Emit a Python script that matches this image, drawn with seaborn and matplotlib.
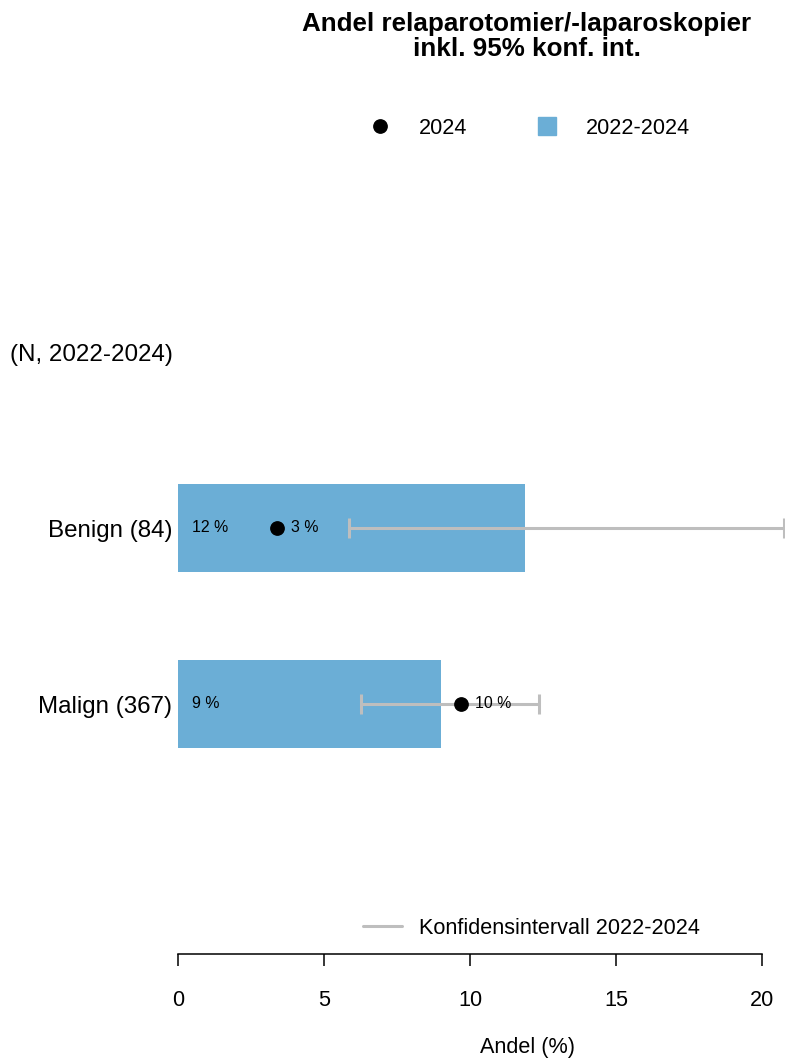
import matplotlib
matplotlib.use("Agg")
import matplotlib.pyplot as plt
from matplotlib.lines import Line2D
import seaborn as sns

# data
groups = ["Benign (84)", "Malign (367)"]
share_period = [11.9, 9.0]       # 2022-2024, bars
share_year = [3.4, 9.7]          # 2024, points
ci_low = [5.84, 6.25]            # 95% CI 2022-2024
ci_high = [20.74, 12.36]
x_ticks = [0, 5, 10, 15, 20]
header_label = "(N, 2022-2024)"

bar_blue = "#6BAED6"
ci_grey = "#BEBEBE"

sns.set_style("white")
plt.rcParams["font.family"] = ["Liberation Sans", "DejaVu Sans"]
plt.rcParams["text.color"] = "black"
plt.rcParams["axes.labelcolor"] = "black"
plt.rcParams["xtick.color"] = "black"
plt.rcParams["ytick.color"] = "black"

W, H = 785, 1060
fig = plt.figure(figsize=(W / 100, H / 100), dpi=100)

# axes placed in pixel terms of the reference
ax_left, ax_right, ax_top, ax_bottom = 178, 762, 300, 954
ax = fig.add_axes([ax_left / W, 1 - ax_bottom / H,
                   (ax_right - ax_left) / W, (ax_bottom - ax_top) / H])

sns.barplot(x=share_period, y=groups, orient="h", color=bar_blue,
            saturation=1, width=0.5, linewidth=0, ax=ax)

pos = list(range(len(groups)))
mid = [(lo + hi) / 2 for lo, hi in zip(ci_low, ci_high)]
half = [(hi - lo) / 2 for lo, hi in zip(ci_low, ci_high)]
eb = ax.errorbar(mid, pos, xerr=half, fmt="none", ecolor=ci_grey,
                 elinewidth=2.2, capsize=7.2, capthick=2.2, zorder=3)
for art in eb.get_children():
    art.set_clip_on(False)

ax.plot(share_year, pos, "o", color="black", ms=9.6, zorder=4, clip_on=False)

for p, v in zip(pos, share_period):
    ax.annotate(f"{round(v)} %", (0, p), xytext=(10, 0), textcoords="offset points",
                ha="left", va="center", fontsize=11.4, zorder=5)
for p, v in zip(pos, share_year):
    ax.annotate(f"{round(v)} %", (v, p), xytext=(10, 0), textcoords="offset points",
                ha="left", va="center", fontsize=11.4, zorder=5)

# y layout: one unit per row, header row above the groups
unit = 704 - 528
ax.set_ylim(1 + (ax_bottom - 704) / unit, (ax_top - 528) / unit)
ax.set_yticks([-1] + pos)
ax.set_yticklabels([header_label] + groups, fontsize=17.4)
ax.tick_params(axis="y", length=0, pad=4)

ax.set_xlim(x_ticks[0], x_ticks[-1])
ax.set_xticks(x_ticks)
ax.tick_params(axis="x", direction="out", length=8.6, width=1.1, pad=17,
               labelsize=15.6, bottom=True, color="black")
ax.set_xlabel("")
ax.set_ylabel("")
for side in ["top", "right", "left"]:
    ax.spines[side].set_visible(False)
ax.spines["bottom"].set_color("black")
ax.spines["bottom"].set_linewidth(1.1)

fig.text(527 / W, 1 - 1047 / H, "Andel (%)", ha="center", va="center", fontsize=15.6)
fig.text(527 / W, 1 - 12 / H, "Andel relaparotomier/-laparoskopier\ninkl. 95% konf. int.",
         ha="center", va="top", fontsize=18.7, fontweight="bold", linespacing=1.05)

top_handles = [
    Line2D([], [], marker="o", ls="none", color="black", ms=9.6),
    Line2D([], [], marker="s", ls="none", color=bar_blue, ms=13),
]
fig.legend(top_handles, ["2024", "2022-2024"], loc="center", ncol=2,
           bbox_to_anchor=(524 / W, 1 - 128 / H), frameon=False, fontsize=15.6,
           handlelength=2, handletextpad=0.8, columnspacing=2.7, borderpad=0)

ci_handle = [Line2D([], [], color=ci_grey, lw=2.2)]
fig.legend(ci_handle, ["Konfidensintervall 2022-2024"], loc="center",
           bbox_to_anchor=(531 / W, 1 - 928 / H), frameon=False, fontsize=15.6,
           handlelength=1.84, handletextpad=0.74, borderpad=0)

fig.savefig("out.png", dpi=100)
